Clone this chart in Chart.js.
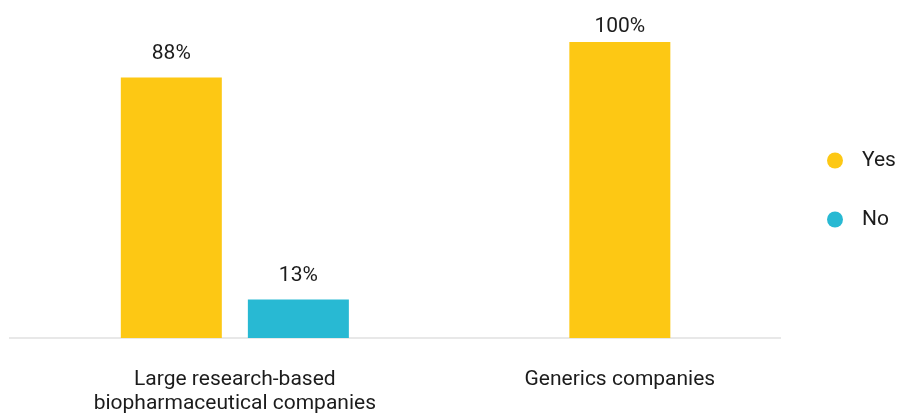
<!DOCTYPE html>
<html>
<head>
<meta charset="utf-8">
<script src="https://cdn.jsdelivr.net/npm/chart.js@4"></script>
<style>
  body { margin: 0; background: #fff; }
</style>
</head>
<body>
<canvas id="myChart" width="899" height="416"></canvas>
<script>
// categories + series
var categories = [
    ['Large research-based', 'biopharmaceutical companies'],
    'Generics companies'
]
var yesValues = [88, 100]
var noValues = [13, null]
var seriesNames = ['Yes', 'No']

var yellow = '#FDC814'
var teal = '#28B9D3'
var textColor = '#1c1c1c'

function toPoints(values) {
    return values.map((v, i) => ({ x: i, y: v }))
}

// percent labels over the bars
var barLabels = {
    id: 'barLabels',
    afterDatasetsDraw(chart) {
        var ctx = chart.ctx
        var top = chart.chartArea.top
        ctx.save()
        ctx.font = '21px Roboto'
        ctx.fillStyle = textColor
        ctx.textAlign = 'center'
        ctx.textBaseline = 'middle'
        chart.data.datasets.forEach((ds, di) => {
            var meta = chart.getDatasetMeta(di)
            meta.data.forEach((bar, i) => {
                var v = ds.data[i].y
                if (v === null) return
                ctx.fillText(v + '%', bar.x, Math.max(bar.y - 24, top - 15))
            })
        })
        ctx.restore()
    }
}

// legend on the right, dots + names, centred on the plot height
var sideLegend = {
    id: 'sideLegend',
    afterDraw(chart) {
        var ctx = chart.ctx
        var area = chart.chartArea
        var sets = chart.data.datasets
        var midY = (area.top + area.bottom) / 2
        ctx.save()
        ctx.font = '21px Roboto'
        ctx.textBaseline = 'middle'
        ctx.textAlign = 'left'
        sets.forEach((ds, i) => {
            var y = midY + (i - (sets.length - 1) / 2) * 59
            ctx.fillStyle = ds.backgroundColor
            ctx.beginPath()
            ctx.arc(area.right + 55, y, 8, 0, Math.PI * 2)
            ctx.fill()
            ctx.fillStyle = textColor
            ctx.fillText(ds.label, area.right + 82, y)
        })
        ctx.restore()
    }
}

var ctx = document.getElementById('myChart')

var myChart = new Chart(ctx, {
    type: 'bar',
    data: {
        datasets: [{
            label: seriesNames[0],
            data: toPoints(yesValues),
            backgroundColor: yellow,
            borderWidth: 0
        }, {
            label: seriesNames[1],
            data: toPoints(noValues),
            backgroundColor: teal,
            borderWidth: 0
        }]
    },
    options: {
        responsive: false,
        animation: false,
        devicePixelRatio: 1,
        layout: {
            padding: { top: 42, left: 10, right: 119, bottom: 0 }
        },
        datasets: {
            bar: {
                skipNull: true,
                categoryPercentage: 0.66,
                barPercentage: 0.795,
                maxBarThickness: 101
            }
        },
        scales: {
            x: {
                type: 'linear',
                min: -0.584,
                max: 1.416,
                bounds: 'data',
                offset: false,
                afterBuildTicks: scale => {
                    scale.ticks = categories.map((c, i) => ({ value: i }))
                },
                // chart.js pads both sides of the labels, keep only the top gap
                afterFit: scale => {
                    scale.height -= scale.options.ticks.padding
                },
                grid: { display: false, drawTicks: false },
                border: { display: true, color: '#e8e8e8', width: 2 },
                ticks: {
                    autoSkip: false,
                    maxRotation: 0,
                    padding: 30,
                    color: textColor,
                    font: { family: 'Roboto', size: 21, lineHeight: 1.143 },
                    callback: value => categories[value]
                }
            },
            y: {
                display: false,
                min: 0,
                max: 100
            }
        },
        plugins: {
            tooltip: { enabled: false },
            legend: { display: false }
        }
    },
    plugins: [barLabels, sideLegend]
});
</script>
</body>
</html>
